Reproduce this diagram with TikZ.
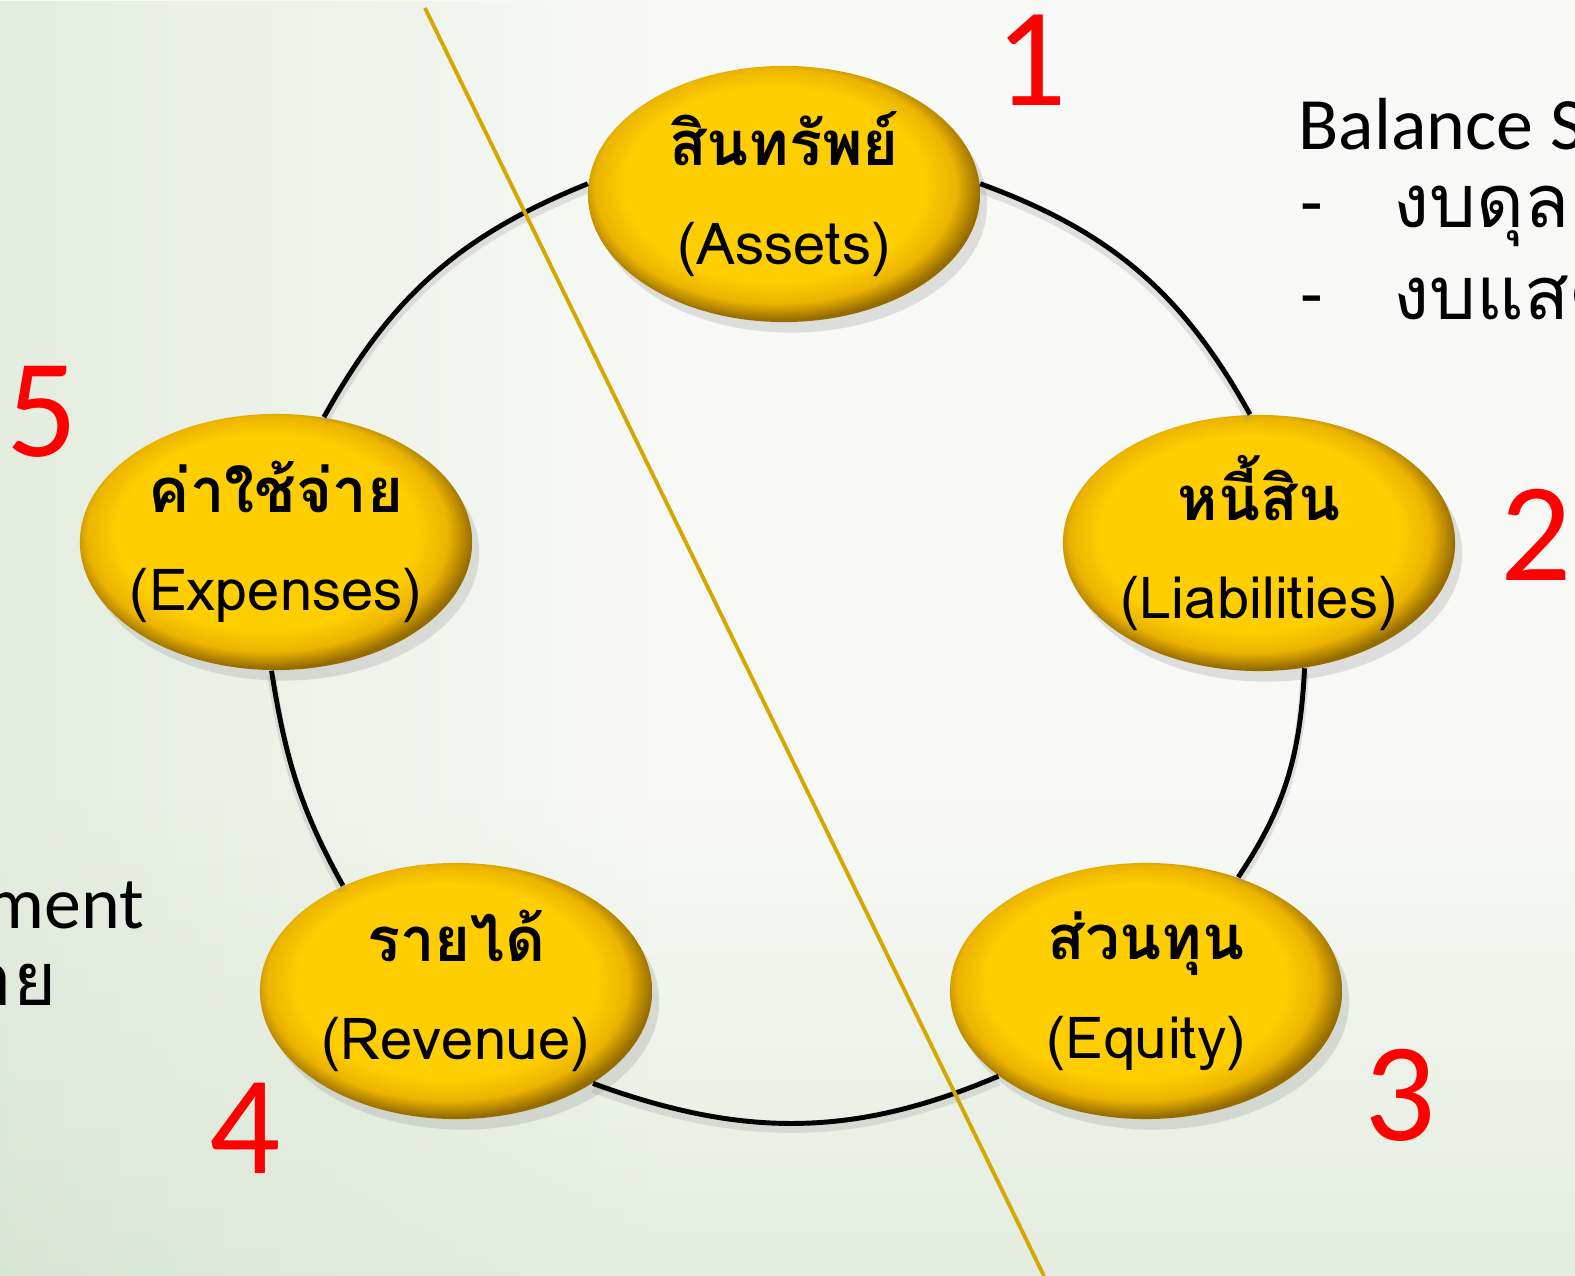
\documentclass[tikz,border=0pt]{standalone}
\usepackage{fontspec}
\setmainfont{Carlito}
\newfontfamily\thaifont[Script=Thai]{Loma}
\usetikzlibrary{shapes.geometric,shadows,fadings}
\definecolor{gold}{RGB}{255,206,0}
\definecolor{goldmid}{RGB}{236,180,0}
\definecolor{golddark}{RGB}{150,108,0}
\definecolor{lineGold}{RGB}{212,168,0}
\definecolor{numred}{RGB}{255,0,0}
\definecolor{bgbase}{RGB}{248,249,246}
\definecolor{bggreen}{RGB}{205,222,195}
\pgfdeclareradialshading{goldball}{\pgfpoint{-2bp}{3bp}}{color(0bp)=(gold); color(19bp)=(gold); color(23bp)=(goldmid); color(26bp)=(golddark); color(50bp)=(golddark)}
\newcommand\bubtext[2]{\makebox[0pt]{\bfseries #1}\\\makebox[0pt]{\fontsize{16.5}{29}\selectfont #2}}
\begin{document}
\begin{tikzpicture}[x=0.01cm,y=-0.01cm,
  bubble/.style={ellipse, minimum width=3.92cm, minimum height=2.56cm, inner sep=0pt,
    shading=goldball, draw=none, align=center,
    drop shadow={opacity=0.22, shadow xshift=2pt, shadow yshift=-3pt},
    font=\fontsize{17.5}{28}\selectfont\thaifont},
  ring/.style={line width=1.4pt, black,
    preaction={draw=black!40, line width=2.4pt, draw opacity=0.25, transform canvas={yshift=-1.5pt}}},
  divider/.style={line width=1.1pt, draw=lineGold},
  num/.style={text=numred, font=\fontsize{40}{40}\selectfont, inner sep=0pt},
  side/.style={font=\fontsize{21}{25}\selectfont, inner sep=0pt, text=black}]
\useasboundingbox (0,0) rectangle (1575,1276);
\clip (0,0) rectangle (1575,1276);
% background
\fill[bgbase] (0,0) rectangle (1575,1276);
\fill[bggreen, path fading=east, fill opacity=0.45] (0,0) rectangle (650,1276);
\fill[bggreen, path fading=north, fill opacity=0.45] (0,800) rectangle (1575,1276);
% bubbles
\node[bubble] (assets) at (784,194) {\bubtext{สินทรัพย์}{(Assets)}};
\node[bubble] (liab)   at (1259,543) {\bubtext{หนี้สิน}{(Liabilities)}};
\node[bubble] (equity) at (1146,991) {\bubtext{ส่วนทุน}{(Equity)}};
\node[bubble] (rev)    at (456,991) {\bubtext{รายได้}{(Revenue)}};
\node[bubble] (exp)    at (276,542) {\bubtext{ค่าใช้จ่าย}{(Expenses)}};
% ring connectors
\draw[ring] (assets.3) to[out=-20,in=119] (liab.94);
\draw[ring] (liab.-70) to[out=-93,in=56] (equity.51);
\draw[ring] (equity.210) to[out=203,in=-20] (rev.-34);
\draw[ring] (rev.137) to[out=119,in=-81] (exp.268);
\draw[ring] (exp.69) to[out=61,in=202] (assets.177);
% divider
\coordinate (g1) at (425,8);
\coordinate (g2) at (1044,1276);
\draw[divider] (g1) -- (g2);
% numbers
\node[num] (n1) at (1031,60) {1};
\node[num] (n2) at (1536,535) {2};
\node[num] (n3) at (1400,1095) {3};
\node[num] (n4) at (245,1128) {4};
\node[num] (n5) at (42,412) {5};
% side texts
\node[side, anchor=base west] (bs) at (1298,150) {Balance Sheet};
\node[side, anchor=base west] (bs1) at (1300,228) {-\hspace{20pt}{\thaifont งบดุล}};
\node[side, anchor=base west] (bs2) at (1300,320) {-\hspace{20pt}{\thaifont งบแสดงฐานะการเงิน}};
\node[side, anchor=base east] (is) at (145,928) {Income Statement};
\node[side, anchor=base east] (is1) at (57,1005) {{\thaifont งบรายได้และค่าใช้จ่าย}};
\end{tikzpicture}
\end{document}
